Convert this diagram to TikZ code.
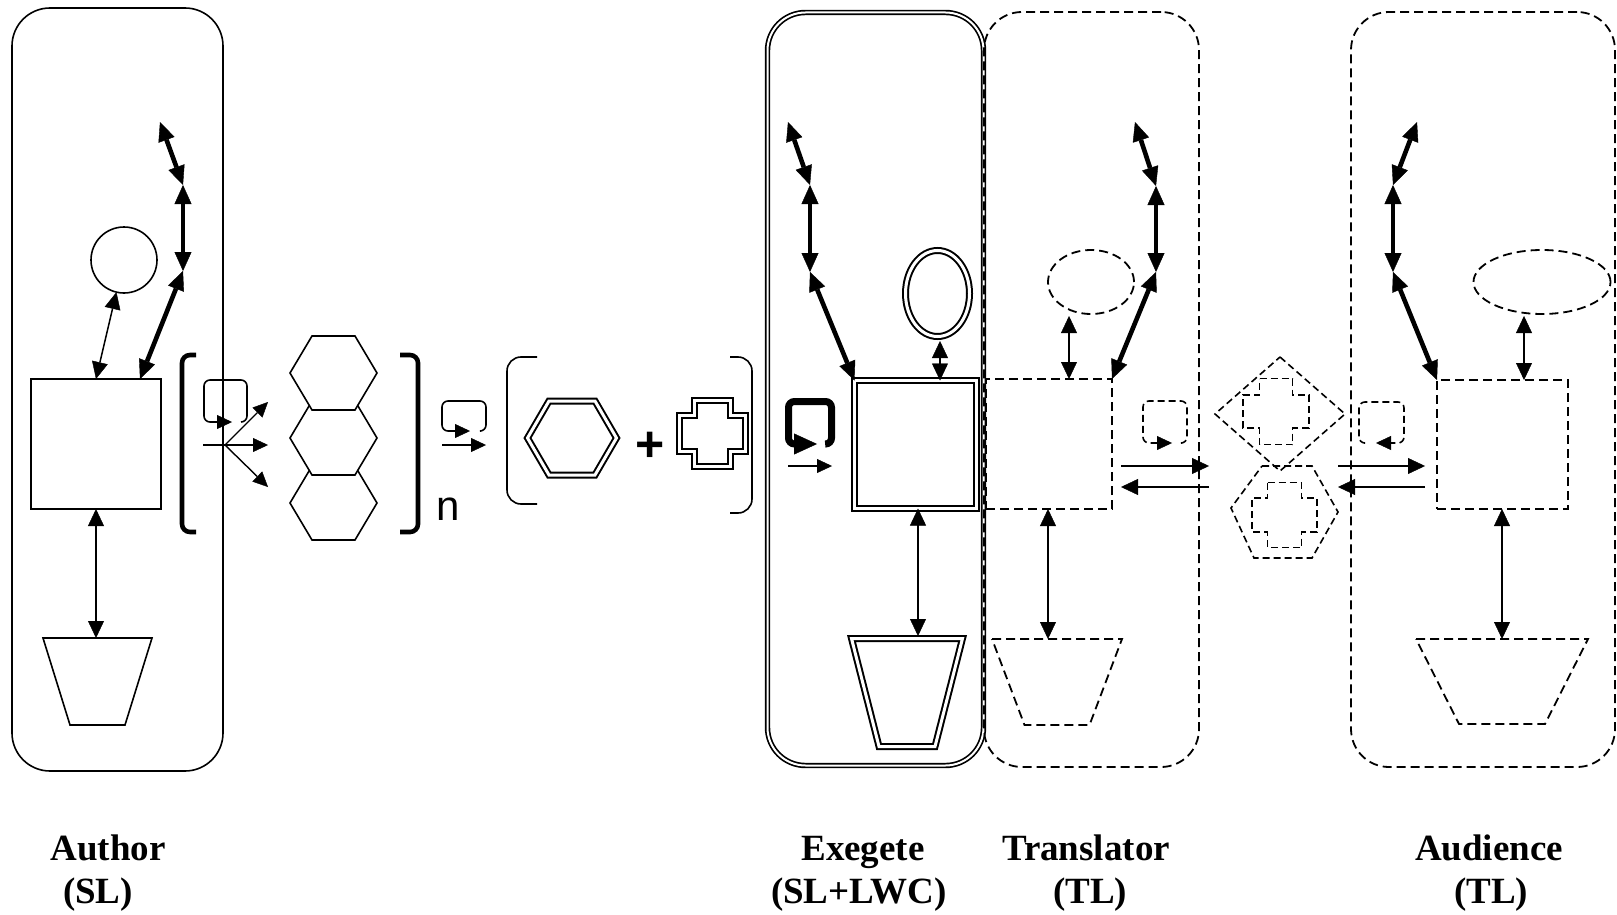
\documentclass[tikz,border=0pt]{standalone}
\usepackage{fontspec}
\setmainfont{Liberation Serif}
\newfontfamily\sansfont{Liberation Sans}
\usetikzlibrary{arrows.meta,shapes.geometric}

% outlines: centre x, centre (or top) y, sizes
\newcommand{\hexpath}[5]{(#1-#3,#2) -- (#1-#4,#2-#5) -- (#1+#4,#2-#5) -- (#1+#3,#2) -- (#1+#4,#2+#5) -- (#1-#4,#2+#5) -- cycle}
\newcommand{\trappath}[5]{(#1-#3,#2) -- (#1+#3,#2) -- (#1+#4,#2+#5) -- (#1-#4,#2+#5) -- cycle}
\newcommand{\crosspath}[4]{(#1-#4,#2-#3) -- (#1+#4,#2-#3) -- (#1+#4,#2-#4) -- (#1+#3,#2-#4) -- (#1+#3,#2+#4) -- (#1+#4,#2+#4) -- (#1+#4,#2+#3) -- (#1-#4,#2+#3) -- (#1-#4,#2+#4) -- (#1-#3,#2+#4) -- (#1-#3,#2-#4) -- (#1-#4,#2-#4) -- cycle}

\tikzset{
  every node/.style={inner sep=0pt, outer sep=0pt},
  solidln/.style={line width=1.6pt},
  dsh/.style={line width=1.8pt, dash pattern=on 9pt off 5pt},
  dshs/.style={line width=1.6pt, dash pattern=on 7pt off 4pt},
  dbl/.style={double, line width=2pt, double distance=3pt},
  dblbox/.style={double, line width=1.7pt, double distance=2pt},
  pbox/.style={draw, rectangle, rounded corners=38pt},
  tipS/.style={>={Triangle[length=15pt,width=14pt,line width=0.4pt]}},
  tipM/.style={>={Triangle[length=17pt,width=16pt,line width=0.4pt]}},
  tipL/.style={>={Triangle[length=19pt,width=17pt,line width=0.4pt]}},
  ln/.style={line width=1.5pt, tipM, <->},
  lnm/.style={line width=2.4pt, tipM},
  bond/.style={line width=4.6pt, tipL, <->},
  lbl/.style={font=\fontsize{37}{40}\selectfont\bfseries, anchor=base},
}

\begin{document}
\begin{tikzpicture}[x=1pt,y=-1pt]
\useasboundingbox (0,0) rectangle (1617,915);

% Author (SL)
\node[pbox, solidln, minimum width=211pt, minimum height=763pt] (aubox) at (117.5,389.5) {};
\node[draw, solidln, minimum width=130pt, minimum height=130pt] (ausq) at (96,444) {};
\node[draw, solidln, circle, minimum size=66pt] (aucirc) at (124,260) {};
\draw[solidln] \trappath{97.5}{638}{54.5}{27.5}{87};
\coordinate (autrap) at (96,638);
\coordinate (au1) at (140,379);
\coordinate (au2) at (183,271);
\coordinate (au3) at (183,185);
\coordinate (au4) at (160,122);
\draw[ln] (ausq.north) -- (aucirc);
\draw[ln] (ausq.south) -- (autrap);
\foreach \a/\b in {au1/au2,au2/au3,au3/au4}
  \draw[bond] (\a) -- (\b);

% bracket with fan and hexagons
\draw[line width=4.6pt, rounded corners=8pt] (196,355) -| (182,444) |- (196,532);
\draw[line width=4.6pt, rounded corners=8pt] (400,355) -| (418,444) |- (400,532);
\draw[solidln, rounded corners=6pt, tipS, ->] (241,422) -| (247,380) -| (204,422) -- (232,422);
\coordinate (fanL) at (203,445);
\coordinate (fan) at (225,445);
\coordinate (fanA) at (268,402);
\coordinate (fanB) at (268,445);
\coordinate (fanC) at (268,487);
\draw[line width=1.4pt, tipS, ->] (fanL) -- (fanB);
\draw[line width=1.4pt, tipS, ->] (fan) -- (fanA);
\draw[line width=1.4pt, tipS, ->] (fan) -- (fanC);
\foreach \cy in {503,438,373}
  \draw[solidln, fill=white] \hexpath{333.5}{\cy}{43.5}{21.5}{37};
\node[font=\sansfont\fontsize{42}{44}\selectfont, anchor=base] (nlbl) at (448,520) {n};

% loop and arrow
\draw[solidln, rounded corners=6pt, tipS, ->] (481,431) -| (486,401) -| (442,431) -- (470,431);
\coordinate (s1) at (442,445);
\coordinate (s2) at (486,445);
\draw[line width=1.6pt, tipS, ->] (s1) -- (s2);

% second bracket
\draw[solidln, rounded corners=14pt] (537,357) -| (507,430) |- (537,504);
\draw[solidln, rounded corners=14pt] (730,357) -| (752,435) |- (730,513);
\draw[dbl] \hexpath{572}{438}{44.5}{23}{37};
\node[font=\sansfont\bfseries\fontsize{50}{50}\selectfont] (plus) at (650,447) {+};
\draw[dbl] \crosspath{712.5}{433.5}{33}{18};

% Exegete (SL+LWC)
\node[pbox, dblbox, minimum width=216pt, minimum height=753pt] (exbox) at (875.5,389) {};
\node[draw, dbl, minimum width=122pt, minimum height=128pt] (exsq) at (915.5,444.5) {};
\node[draw, dbl, ellipse, minimum width=64pt, minimum height=86pt] (exell) at (937.5,293.5) {};
\draw[dbl] \trappath{907}{638.5}{55.5}{28}{108};
\draw[line width=7pt, rounded corners=6pt, ->, >={Triangle[length=23pt,width=21pt,line width=0.4pt]}] (826,444) -| (831.5,401.5) -| (788.5,444) -- (817,444);
\coordinate (e1) at (788,466);
\coordinate (e2) at (832,466);
\draw[line width=1.6pt, tipS, ->] (e1) -- (e2);
\coordinate (exA) at (940,341);
\coordinate (extrap) at (918,636);
\coordinate (ex2) at (810,272);
\coordinate (ex3) at (810,185);
\coordinate (ex4) at (788,122);
\draw[lnm, <->] (exA) -- (exA |- exsq.north);
\draw[ln] (extrap |- exsq.south) -- (extrap);
\draw[bond] (exsq.north west) -- (ex2);
\draw[bond] (ex2) -- (ex3);
\draw[bond] (ex3) -- (ex4);

% Translator (TL)
\node[pbox, dsh, minimum width=215pt, minimum height=755pt] (trbox) at (1091.5,389.5) {};
\node[draw, dsh, minimum width=126pt, minimum height=130pt] (trsq) at (1049,444) {};
\node[draw, dsh, ellipse, minimum width=86pt, minimum height=64pt] (trell) at (1091,282) {};
\draw[dsh] \trappath{1057}{639}{65}{32.5}{86};
\draw[dshs, rounded corners=6pt, tipS, ->] (1182,443) -| (1187,401) -| (1143,443) -- (1172,443);
\coordinate (trA) at (1069,316);
\coordinate (trtrap) at (1048,639);
\coordinate (tr2) at (1156,272);
\coordinate (tr3) at (1156,186);
\coordinate (tr4) at (1135,122);
\draw[ln] (trA) -- (trA |- trsq.north);
\draw[ln] (trtrap |- trsq.south) -- (trtrap);
\draw[bond] (trsq.north east) -- (tr2);
\draw[bond] (tr2) -- (tr3);
\draw[bond] (tr3) -- (tr4);

% exchange in the middle
\coordinate (h1) at (1121,466);
\coordinate (h2) at (1209,466);
\coordinate (h3) at (1209,487);
\coordinate (h4) at (1121,487);
\coordinate (h5) at (1338,466);
\coordinate (h6) at (1425,466);
\coordinate (h7) at (1425,487);
\coordinate (h8) at (1338,487);
\draw[lnm, ->] (h1) -- (h2);
\draw[lnm, ->] (h3) -- (h4);
\draw[lnm, ->] (h5) -- (h6);
\draw[lnm, ->] (h7) -- (h8);
\draw[dshs] (1280,357) -- (1345,414) -- (1280,471) -- (1215,414) -- cycle;
\draw[dshs] \crosspath{1276}{411.5}{33}{16.5};
\draw[dshs] (1262,466) -- (1312,466) -- (1338,512) -- (1312,558) -- (1254,558) -- (1231,508) -- cycle;
\draw[dshs] \crosspath{1284.5}{515}{32.5}{17};

% Audience (TL)
\node[pbox, dsh, minimum width=264pt, minimum height=755pt] (adbox) at (1483,389.5) {};
\node[draw, dsh, minimum width=131pt, minimum height=129pt] (adsq) at (1502.5,444.5) {};
\node[draw, dsh, ellipse, minimum width=137pt, minimum height=64pt] (adell) at (1542,282) {};
\draw[dsh] \trappath{1502}{639}{86}{43}{85};
\draw[dshs, rounded corners=6pt, tipS, ->] (1364,443) -| (1359,402) -| (1404,443) -- (1376,443);
\coordinate (adA) at (1524,316);
\coordinate (adtrap) at (1502,639);
\coordinate (ad2) at (1393,272);
\coordinate (ad3) at (1393,185);
\coordinate (ad4) at (1417,122);
\draw[ln] (adA) -- (adA |- adsq.north);
\draw[ln] (adtrap |- adsq.south) -- (adtrap);
\draw[bond] (adsq.north west) -- (ad2);
\draw[bond] (ad2) -- (ad3);
\draw[bond] (ad3) -- (ad4);

% names
\node[lbl] (aulbl) at (108,860) {Author};
\node[lbl] (auslbl) at (98,903) {(SL)};
\node[lbl] (exlbl) at (863,860) {Exegete};
\node[lbl] (exslbl) at (859,903) {(SL+LWC)};
\node[lbl] (trlbl) at (1086,860) {Translator};
\node[lbl] (trslbl) at (1090,903) {(TL)};
\node[lbl] (adlbl) at (1489,860) {Audience};
\node[lbl] (adslbl) at (1491,903) {(TL)};
\end{tikzpicture}
\end{document}
